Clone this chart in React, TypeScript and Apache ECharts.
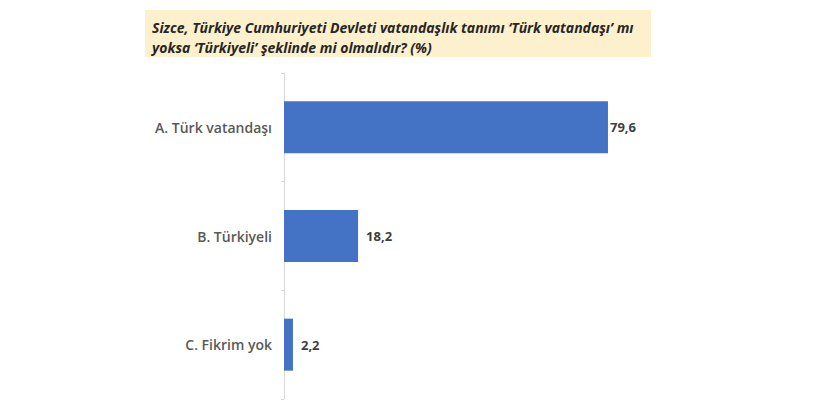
import { useEffect, useRef } from "react";
import * as echarts from "echarts";

const categories = ["A. Türk vatandaşı", "B. Türkiyeli", "C. Fikrim yok"];
const values = [79.6, 18.2, 2.2];
const titleLines = [
  "Sizce, Türkiye Cumhuriyeti Devleti vatandaşlık tanımı ‘Türk vatandaşı’ mı",
  "yoksa ‘Türkiyeli’ şeklinde mi olmalıdır? (%)",
];

const App = () => {
  const chartRef = useRef(null);

  useEffect(() => {
    document.body.style.margin = "0";
    const chart = echarts.init(chartRef.current, null, { renderer: "svg" });

    const option: any = {
      animation: false,
      backgroundColor: "#ffffff",
      textStyle: { fontFamily: "'Open Sans', sans-serif" },
      graphic: [
        {
          type: "rect",
          shape: { x: 145, y: 10, width: 506, height: 47 },
          style: { fill: "#fdf0cd" },
          silent: true,
        },
        ...titleLines.map((line, i) => ({
          type: "text",
          x: 152,
          y: 27.5 + i * 19.5,
          style: {
            text: line,
            font: "italic bold 14px 'Open Sans', sans-serif",
            fill: "#262626",
            verticalAlign: "middle",
          },
          silent: true,
        })),
      ],
      grid: {
        left: 284,
        top: 73,
        width: 407,
        height: 326,
      },
      xAxis: {
        type: "value",
        min: 0,
        max: 100,
        show: false,
      },
      yAxis: {
        type: "category",
        inverse: true,
        data: categories,
        axisLine: { lineStyle: { color: "#d9d9d9", width: 1 } },
        axisTick: { show: true, length: 3, lineStyle: { color: "#d9d9d9" } },
        axisLabel: {
          margin: 12,
          color: "#595959",
          fontSize: 14,
          fontWeight: 600,
          fontFamily: "'Open Sans', sans-serif",
        },
      },
      series: [
        {
          type: "bar",
          barWidth: 52,
          data: values.map((v, i) => ({
            value: v,
            label: i === 0 ? { distance: 2 } : undefined,
          })),
          itemStyle: { color: "#4472c4" },
          label: {
            show: true,
            position: "right",
            distance: 8,
            color: "#404040",
            fontSize: 13,
            fontWeight: "bold",
            fontFamily: "'Open Sans', sans-serif",
            formatter: (p) => String(p.value).replace(".", ","),
          },
        },
      ],
    };

    chart.setOption(option);

    return () => {
      chart.dispose();
    };
  }, []);

  return <div ref={chartRef} style={{ width: "820px", height: "405px" }} />;
};

export default App;
